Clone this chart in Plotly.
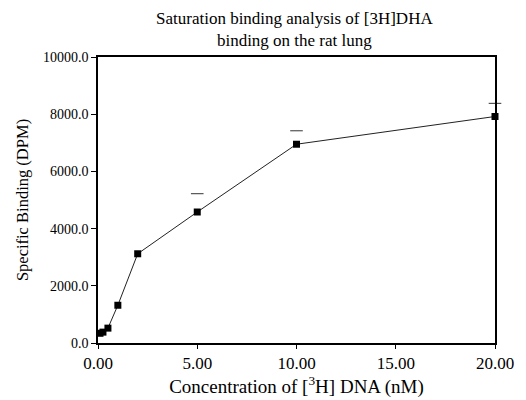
import plotly.graph_objects as go

conc = [0.1, 0.25, 0.5, 1.0, 2.0, 5.0, 10.0, 20.0]
binding = [340, 380, 520, 1320, 3120, 4580, 6950, 7920]
err_x = [5.0, 10.0, 20.0]
err_top = [5220, 7420, 8380]

x_ticks = [0, 5, 10, 15, 20]
x_labels = ["0.00", "5.00", "10.00", "15.00", "20.00"]
y_ticks = [0, 2000, 4000, 6000, 8000, 10000]
y_labels = ["0.0", "2000.0", "4000.0", "6000.0", "8000.0", "10000.0"]

font = "Liberation Serif, Times New Roman, serif"

fig = go.Figure()
fig.add_trace(go.Scatter(
    x=conc, y=binding, mode="lines+markers",
    line=dict(color="#222", width=1),
    marker=dict(symbol="square", size=7, color="black"),
    cliponaxis=False, showlegend=False))
fig.add_trace(go.Scatter(
    x=err_x, y=err_top, mode="markers",
    marker=dict(symbol="line-ew", size=9, line=dict(color="#333", width=1)),
    cliponaxis=False, showlegend=False))

fig.add_annotation(
    text="Saturation binding analysis of [3H]DHA<br>binding on the rat lung",
    xref="paper", yref="paper", x=0.495, y=1.096,
    xanchor="center", yanchor="middle", showarrow=False,
    font=dict(family=font, size=17), align="center")

fig.update_layout(
    width=526, height=400,
    margin=dict(l=98, r=28, t=57, b=57),
    paper_bgcolor="white", plot_bgcolor="white",
    font=dict(family=font, color="black", size=14),
    xaxis=dict(range=[0, 20], tickvals=x_ticks, ticktext=x_labels,
               showgrid=False, zeroline=False, showline=True, linecolor="black",
               linewidth=1.5, mirror=True, ticks="outside", ticklen=4,
               tickcolor="black", tickfont=dict(size=17),
               title=dict(text="Concentration of [<sup>3</sup>H] DNA (nM)",
                          font=dict(size=19), standoff=2)),
    yaxis=dict(range=[0, 10000], tickvals=y_ticks, ticktext=y_labels,
               showgrid=False, zeroline=False, showline=True, linecolor="black",
               linewidth=1.5, mirror=True, ticks="outside", ticklen=5,
               tickcolor="black", tickfont=dict(size=14),
               title=dict(text="Specific Binding (DPM)", font=dict(size=16.5), standoff=10)),
)

fig.write_html("out.html")
